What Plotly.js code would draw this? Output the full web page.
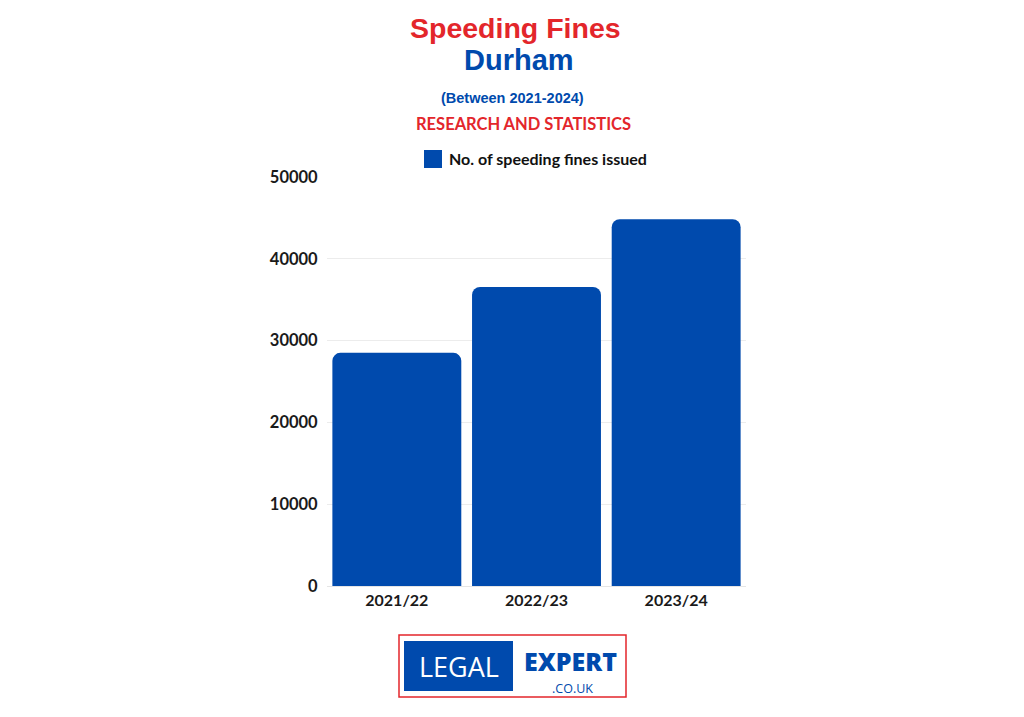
<!DOCTYPE html>
<html>
<head>
<meta charset="utf-8">
<script src="https://cdn.plot.ly/plotly-3.0.1.min.js"></script>
<style>html,body{margin:0;padding:0;background:#fff;}#chart{width:1024px;height:717px;}</style>
</head>
<body>
<div id="chart"></div>
<script>
const categories = ["2021/22", "2022/23", "2023/24"];
const fines = [28500, 36550, 44850];
const seriesName = "No. of speeding fines issued";
const yTicks = [0, 10000, 20000, 30000, 40000, 50000];

const BLUE = "#004aad";
const RED = "#e3262b";
const L = 327, R = 746, T = 177, B = 586;
const px = x => (x - L) / (R - L);
const py = y => (B - y) / (B - T);

const trace = {
  type: "bar",
  x: categories,
  y: fines,
  name: seriesName,
  marker: {color: BLUE},
  hoverinfo: "x+y"
};

const layout = {
  width: 1024, height: 717,
  margin: {l: L, r: 1024 - R, t: T, b: 717 - B},
  paper_bgcolor: "#fff", plot_bgcolor: "#fff",
  bargap: 0.077,
  barcornerradius: 8,
  showlegend: false,
  xaxis: {
    type: "category",
    tickfont: {family: "Lato", size: 16, color: "#1a1a1a", weight: "bold"},
    showline: true, linecolor: "#e5e5e5", linewidth: 1,
    ticks: "", showgrid: false
  },
  yaxis: {
    range: [0, 50000],
    tickvals: yTicks,
    ticktext: yTicks.map(v => String(v)),
    tickfont: {family: "Lato", size: 16.5, color: "#1a1a1a", weight: "bold"},
    gridcolor: "#ececec", gridwidth: 1,
    zeroline: false, ticks: "outside", ticklen: 5, tickcolor: "rgba(0,0,0,0)",
    fixedrange: true
  },
  annotations: [
    {text: "<b>Speeding Fines</b>", xref: "paper", yref: "paper", x: px(515), y: py(28), xanchor: "center", yanchor: "middle", showarrow: false,
     font: {family: "Liberation Sans, Arial", size: 28.5, color: RED}},
    {text: "<b>Durham</b>", xref: "paper", yref: "paper", x: px(519), y: py(60), xanchor: "center", yanchor: "middle", showarrow: false,
     font: {family: "Liberation Sans, Arial", size: 29, color: BLUE}},
    {text: "<b>(Between 2021-2024)</b>", xref: "paper", yref: "paper", x: px(512), y: py(98), xanchor: "center", yanchor: "middle", showarrow: false,
     font: {family: "Liberation Sans, Arial", size: 14.5, color: BLUE}},
    {text: "<b>RESEARCH AND STATISTICS</b>", xref: "paper", yref: "paper", x: px(523), y: py(124), xanchor: "center", yanchor: "middle", showarrow: false,
     font: {family: "Lato", size: 16.5, color: RED}},
    {text: "<b>" + seriesName + "</b>", xref: "paper", yref: "paper", x: px(447), y: py(159), xanchor: "left", yanchor: "middle", showarrow: false,
     font: {family: "Lato", size: 16, color: "#111"}},
    {text: "LEGAL", xref: "paper", yref: "paper", x: px(459), y: py(666), xanchor: "center", yanchor: "middle", showarrow: false,
     font: {family: "Open Sans", size: 27, color: "#ffffff"}},
    {text: "EXPERT", xref: "paper", yref: "paper", x: px(570), y: py(661), xanchor: "center", yanchor: "middle", showarrow: false, borderpad: 0,
     font: {family: "Open Sans", size: 25, color: BLUE, weight: 800}},
    {text: ".CO.UK", xref: "paper", yref: "paper", x: px(572), y: py(688), xanchor: "center", yanchor: "middle", showarrow: false, borderpad: 0,
     font: {family: "Open Sans", size: 12.5, color: BLUE}}
  ],
  shapes: [
    {type: "rect", xref: "paper", yref: "paper", x0: px(424), x1: px(442), y0: py(150), y1: py(168),
     line: {width: 0}, fillcolor: BLUE},
    {type: "rect", xref: "paper", yref: "paper", x0: px(399), x1: px(626), y0: py(635), y1: py(697),
     line: {color: RED, width: 1.5}, fillcolor: "#ffffff"},
    {type: "rect", xref: "paper", yref: "paper", x0: px(404), x1: px(513), y0: py(641), y1: py(691),
     line: {width: 0}, fillcolor: BLUE}
  ]
};

Plotly.newPlot("chart", [trace], layout, {displayModeBar: false, staticPlot: true});
</script>
</body>
</html>
